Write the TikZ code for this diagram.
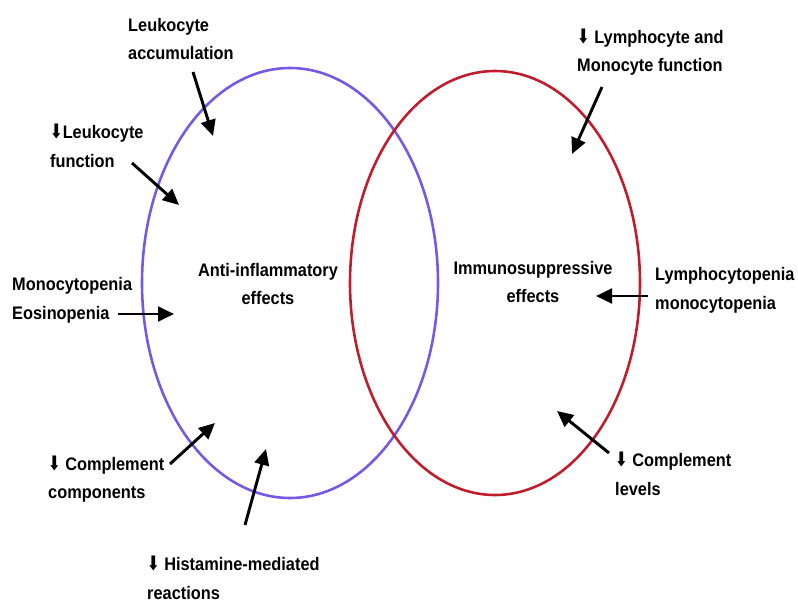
\documentclass[tikz,border=0pt]{standalone}
\usepackage{fontspec}
\setmainfont{Liberation Sans}[FakeStretch=0.9]
\newfontfamily\arrowfont{DejaVu Sans}[FakeStretch=0.75]
\newcommand{\dn}{{\arrowfont\fontsize{17}{17}\selectfont ⬇}}
\usetikzlibrary{arrows.meta, positioning, shapes.geometric}
\definecolor{antiblue}{RGB}{118, 88, 228}
\definecolor{immunored}{RGB}{192, 28, 44}

\begin{document}
\begin{tikzpicture}[
    x=0.03cm, y=-0.03cm,
    lbl/.style={anchor=west, align=left, inner sep=0pt, font=\bfseries\fontsize{15.5}{24.5}\selectfont},
    effect/.style={align=center, inner sep=0pt, font=\bfseries\fontsize{15.5}{24.5}\selectfont},
    ring/.style={draw, ellipse, line width=2.2pt, inner sep=0pt},
    arrow/.style={line width=2.5pt, -{Triangle[length=4.8mm, width=4.4mm]}}
]
    \useasboundingbox (0,0) rectangle (798,606);

    % the two effect ellipses
    \node[ring, draw=antiblue, minimum width=296*0.03cm, minimum height=430*0.03cm] (anti) at (290,283) {};
    \node[ring, draw=immunored, minimum width=290*0.03cm, minimum height=424*0.03cm] (immuno) at (495,283) {};

    \node[effect] (antitxt) at (268,284) {Anti-inflammatory\\effects};
    \node[effect] (immunotxt) at (533,282) {Immunosuppressive\\effects};

    % labels
    \node[lbl] (accum) at (128,39) {Leukocyte\\accumulation};
    \node[lbl] (lfunc) at (50,146) {\dn{}Leukocyte\\function};
    \node[lbl] (mono) at (12,300) {Monocytopenia\\Eosinopenia};
    \node[lbl] (compl) at (48,479) {\dn{} Complement\\components};
    \node[lbl] (hist) at (147,578) {\dn{} Histamine-mediated\\reactions};
    \node[lbl] (lymfunc) at (577,52) {\dn{} Lymphocyte and\\Monocyte function};
    \node[lbl] (lympen) at (655,290) {Lymphocytopenia\\monocytopenia};
    \node[lbl] (clevels) at (615,474) {\dn{} Complement\\levels};

    % arrow ends
    \coordinate (accumT) at (193,72);   \coordinate (accumH) at (213,136);
    \coordinate (lfuncT) at (132,163);  \coordinate (lfuncH) at (179,205);
    \coordinate (monoT) at (118,314);   \coordinate (monoH) at (174,314);
    \coordinate (complT) at (170,464);  \coordinate (complH) at (215,423);
    \coordinate (histT) at (245,525);   \coordinate (histH) at (266,449);
    \coordinate (lymfuncT) at (602,87); \coordinate (lymfuncH) at (572,154);
    \coordinate (lympenT) at (648,296); \coordinate (lympenH) at (596,296);
    \coordinate (clevelsT) at (609,453); \coordinate (clevelsH) at (557,411);

    \draw[arrow] (accumT) -- (accumH);
    \draw[arrow] (lfuncT) -- (lfuncH);
    \draw[arrow] (monoT) -- (monoH);
    \draw[arrow] (complT) -- (complH);
    \draw[arrow] (histT) -- (histH);
    \draw[arrow] (lymfuncT) -- (lymfuncH);
    \draw[arrow] (lympenT) -- (lympenH);
    \draw[arrow] (clevelsT) -- (clevelsH);
\end{tikzpicture}
\end{document}
